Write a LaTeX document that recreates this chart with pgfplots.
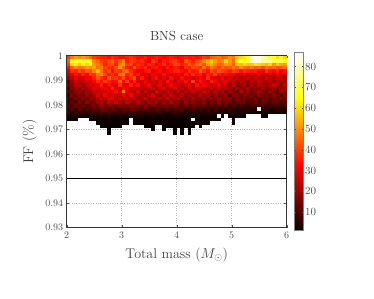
\documentclass[border=0pt]{standalone}
\usepackage{pgfplots}
\pgfplotsset{compat=1.18}
\pgfdeclareplotmark{cell}{\pgfpathrectangle{\pgfpoint{-1.9pt}{-1.77pt}}{\pgfpoint{3.8pt}{3.54pt}}\pgfusepathqfill}
\begin{document}
\begin{tikzpicture}[x=1pt,y=1pt]
\path[use as bounding box] (0,0) rectangle (374,299);
\begin{axis}[
  at={(66.7pt,71.3pt)},anchor=south west,
  scale only axis,width=220pt,height=172pt,
  xmin=2,xmax=6,ymin=0.93,ymax=1,
  xtick={2,3,4,5,6},
  ytick={0.93,0.94,0.95,0.96,0.97,0.98,0.99,1},
  yticklabels={0.93,0.94,0.95,0.96,0.97,0.98,0.99,1},
  grid=major,
  grid style={dotted,black!28,line width=0.5pt},
  tick align=inside,major tick length=2.5pt,
  tick style={black!70,line width=0.4pt},
  axis line style={black!80,line width=0.8pt},
  tick label style={font=\fontsize{10}{11}\selectfont,text=black!70},
  xticklabel style={yshift=-1pt},
  title={BNS case},
  title style={font=\fontsize{13.2}{15}\selectfont,text=black!80,yshift=5pt},
  xlabel={Total mass ($M_\odot$)},
  ylabel={FF (\%)},
  label style={font=\fontsize{14}{16}\selectfont,text=black!75},
  xlabel style={yshift=-2pt},
  ylabel style={yshift=2pt},
  colormap={myhot}{rgb255(0cm)=(10,0,0); rgb255(3.65cm)=(255,0,0); rgb255(7.46cm)=(255,255,0); rgb255(10cm)=(255,255,255)},
  point meta min=1,point meta max=86.6,
  colorbar,
  colorbar style={
    at={(parent axis.south east)},anchor=south west,xshift=-0.7pt,yshift=-3pt,
    scale only axis,width=9pt,height=177.7pt,
    ytick={10,20,30,40,50,60,70,80},
    tick label style={font=\fontsize{10.5}{11}\selectfont,text=black!70,xshift=-2pt},
    axis line style={black!50,line width=1pt},
    major tick length=1.5pt,
  },
]
\addplot[scatter,only marks,mark=cell,point meta=explicit,
  scatter/use mapped color={draw=none,fill=mapped color},
  unbounded coords=discard,
  y filter/.expression={\thisrow{c}<0.5 ? nan : y}]
 table[row sep=\\,meta=c,
   x expr={2+(\coordindex-60*floor(\coordindex/60+0.001)+0.5)*4/60},
   y expr={1-(floor(\coordindex/60+0.001)+0.5)*0.0014}]{
c\\
40\\48\\52\\50\\52\\50\\46\\40\\38\\36\\36\\34\\38\\36\\34\\34\\36\\38\\36\\34\\34\\36\\32\\34\\36\\34\\32\\34\\36\\34\\32\\34\\36\\34\\36\\34\\36\\40\\38\\44\\46\\48\\44\\46\\50\\48\\56\\60\\62\\66\\80\\84\\82\\78\\74\\70\\68\\62\\66\\60\\
44\\66\\68\\66\\70\\68\\64\\50\\46\\40\\38\\42\\46\\38\\44\\50\\36\\40\\38\\36\\38\\34\\30\\40\\36\\30\\36\\34\\38\\40\\36\\34\\44\\40\\36\\42\\44\\50\\56\\60\\52\\48\\50\\60\\52\\46\\62\\70\\66\\70\\82\\86\\84\\76\\80\\78\\70\\72\\74\\66\\
40\\60\\62\\58\\64\\60\\66\\52\\48\\44\\36\\40\\44\\36\\48\\52\\40\\42\\34\\38\\36\\32\\38\\36\\30\\34\\38\\32\\36\\42\\40\\36\\38\\44\\40\\46\\50\\42\\52\\54\\48\\44\\46\\52\\50\\44\\58\\56\\60\\58\\58\\62\\60\\58\\56\\60\\52\\58\\54\\52\\
34\\44\\50\\46\\48\\52\\50\\54\\46\\48\\40\\38\\36\\42\\52\\44\\36\\34\\44\\36\\34\\38\\30\\34\\36\\32\\30\\36\\32\\36\\34\\30\\38\\36\\42\\40\\38\\46\\40\\48\\44\\40\\46\\42\\44\\48\\44\\50\\46\\44\\48\\44\\46\\42\\48\\44\\46\\42\\44\\46\\
28\\38\\36\\42\\38\\44\\42\\48\\56\\46\\38\\42\\34\\40\\38\\44\\46\\38\\34\\30\\30\\34\\36\\28\\32\\34\\28\\32\\34\\36\\38\\34\\32\\38\\34\\36\\44\\38\\34\\42\\38\\44\\40\\38\\36\\40\\38\\34\\38\\36\\34\\36\\32\\30\\38\\34\\32\\36\\30\\34\\
24\\28\\34\\30\\36\\32\\40\\38\\46\\50\\42\\36\\40\\34\\46\\48\\36\\40\\32\\36\\28\\30\\26\\32\\30\\28\\34\\30\\26\\30\\32\\28\\36\\32\\38\\34\\36\\30\\36\\34\\40\\34\\30\\34\\32\\30\\26\\28\\30\\26\\28\\26\\30\\24\\26\\28\\24\\30\\26\\28\\
18\\24\\30\\26\\28\\32\\30\\36\\44\\38\\34\\44\\38\\40\\36\\42\\34\\38\\44\\30\\36\\28\\24\\30\\34\\26\\30\\24\\34\\28\\26\\34\\28\\30\\26\\30\\32\\28\\38\\30\\28\\26\\32\\24\\28\\22\\26\\22\\24\\26\\22\\26\\24\\22\\28\\24\\22\\26\\24\\22\\
12\\20\\26\\22\\26\\28\\26\\32\\38\\34\\40\\36\\32\\34\\44\\32\\40\\30\\36\\28\\26\\32\\24\\28\\22\\30\\26\\34\\28\\24\\30\\28\\34\\26\\40\\28\\34\\30\\26\\36\\32\\24\\28\\30\\22\\26\\20\\24\\22\\18\\24\\20\\26\\22\\20\\24\\20\\24\\22\\20\\
14\\18\\22\\24\\20\\24\\28\\26\\30\\36\\28\\34\\30\\26\\38\\30\\28\\36\\30\\34\\24\\28\\32\\22\\26\\30\\24\\28\\32\\26\\28\\22\\26\\30\\24\\34\\26\\32\\28\\24\\26\\30\\22\\26\\18\\24\\14\\20\\24\\16\\22\\18\\24\\20\\18\\22\\26\\20\\18\\24\\
10\\16\\20\\16\\22\\20\\24\\30\\26\\30\\32\\26\\36\\30\\26\\34\\32\\24\\28\\22\\26\\22\\24\\28\\20\\26\\30\\22\\24\\30\\22\\26\\20\\28\\24\\28\\30\\24\\20\\26\\22\\26\\18\\24\\22\\14\\22\\18\\14\\22\\16\\20\\14\\22\\18\\14\\20\\16\\22\\18\\
12\\14\\18\\20\\16\\22\\18\\26\\24\\28\\26\\30\\24\\34\\28\\48\\30\\26\\22\\30\\20\\26\\22\\18\\28\\24\\20\\26\\22\\18\\26\\20\\24\\20\\26\\22\\18\\26\\24\\18\\24\\18\\22\\14\\20\\18\\12\\22\\16\\20\\14\\18\\22\\16\\12\\20\\16\\14\\20\\16\\
8\\16\\12\\18\\14\\20\\16\\22\\28\\22\\32\\24\\28\\26\\22\\30\\24\\32\\20\\24\\22\\18\\24\\28\\22\\16\\24\\20\\26\\22\\18\\24\\16\\22\\18\\20\\24\\16\\22\\14\\20\\14\\18\\20\\10\\16\\18\\12\\18\\14\\16\\10\\18\\14\\16\\12\\18\\14\\10\\16\\
10\\10\\16\\12\\18\\14\\20\\18\\22\\26\\22\\28\\30\\22\\26\\24\\28\\20\\26\\20\\22\\26\\18\\22\\16\\24\\20\\26\\16\\22\\24\\16\\20\\14\\22\\16\\18\\22\\14\\20\\16\\20\\14\\16\\18\\10\\16\\12\\16\\12\\14\\16\\10\\14\\16\\12\\14\\10\\16\\14\\
8\\12\\10\\16\\10\\18\\14\\16\\20\\22\\18\\24\\20\\26\\22\\18\\24\\20\\18\\24\\20\\16\\22\\18\\22\\16\\20\\16\\22\\16\\18\\14\\20\\16\\18\\14\\16\\18\\12\\16\\14\\18\\12\\16\\14\\10\\14\\12\\14\\10\\12\\14\\10\\14\\12\\10\\12\\14\\10\\12\\
10\\8\\14\\10\\14\\10\\12\\16\\14\\18\\14\\18\\16\\14\\18\\16\\14\\18\\14\\16\\14\\18\\12\\16\\14\\12\\16\\14\\12\\16\\14\\12\\14\\10\\14\\12\\10\\14\\10\\12\\10\\12\\8\\12\\8\\10\\8\\10\\9\\8\\9\\7\\10\\8\\9\\7\\9\\8\\7\\9\\
8\\10\\7\\12\\8\\11\\7\\12\\10\\14\\12\\10\\14\\11\\8\\12\\10\\14\\10\\12\\8\\12\\10\\8\\12\\10\\7\\11\\8\\10\\7\\10\\8\\6\\10\\7\\8\\6\\7\\6\\7\\5\\8\\4\\7\\5\\4\\5\\4\\5\\4\\5\\0\\4\\5\\4\\4\\5\\4\\4\\
8\\5\\7\\5\\7\\4\\8\\6\\7\\9\\7\\9\\6\\7\\6\\9\\7\\6\\9\\6\\7\\5\\7\\4\\6\\7\\5\\4\\5\\7\\5\\4\\5\\4\\5\\4\\4\\5\\4\\4\\3\\5\\4\\3\\4\\3\\3\\3\\2\\3\\2\\3\\2\\3\\2\\3\\2\\3\\2\\2\\
4\\3\\4\\3\\3\\2\\4\\3\\3\\5\\3\\5\\3\\3\\4\\3\\2\\3\\3\\4\\3\\2\\3\\3\\2\\3\\3\\2\\3\\3\\2\\3\\2\\3\\2\\3\\2\\2\\3\\2\\2\\0\\2\\0\\2\\2\\2\\2\\2\\0\\0\\0\\0\\1\\1\\0\\0\\0\\0\\0\\
2\\1\\1\\0\\0\\0\\2\\1\\1\\2\\1\\2\\1\\1\\2\\1\\1\\0\\1\\1\\2\\1\\1\\2\\1\\1\\2\\1\\1\\1\\2\\1\\1\\2\\0\\1\\1\\1\\1\\1\\1\\1\\0\\0\\0\\1\\0\\0\\0\\0\\0\\0\\0\\0\\0\\0\\0\\0\\0\\0\\
0\\0\\0\\0\\0\\0\\0\\0\\1\\1\\1\\1\\1\\1\\1\\1\\1\\0\\1\\1\\1\\1\\1\\1\\1\\1\\1\\1\\1\\1\\1\\1\\1\\1\\1\\1\\1\\1\\1\\0\\0\\0\\0\\0\\0\\1\\0\\0\\0\\0\\0\\0\\0\\0\\0\\0\\0\\0\\0\\0\\
0\\0\\0\\0\\0\\0\\0\\0\\0\\1\\1\\1\\1\\1\\1\\0\\0\\0\\0\\0\\0\\1\\1\\1\\0\\0\\1\\1\\1\\1\\1\\1\\1\\1\\1\\0\\1\\0\\0\\0\\0\\0\\0\\0\\0\\0\\0\\0\\0\\0\\0\\0\\0\\0\\0\\0\\0\\0\\0\\0\\
0\\0\\0\\0\\0\\0\\0\\0\\0\\0\\0\\1\\0\\0\\0\\0\\0\\0\\0\\0\\0\\0\\0\\1\\0\\0\\1\\0\\0\\1\\0\\1\\0\\1\\0\\0\\0\\0\\0\\0\\0\\0\\0\\0\\0\\0\\0\\0\\0\\0\\0\\0\\0\\0\\0\\0\\0\\0\\0\\0\\
0\\0\\0\\0\\0\\0\\0\\0\\0\\0\\0\\1\\0\\0\\0\\0\\0\\0\\0\\0\\0\\0\\0\\0\\0\\0\\0\\0\\0\\1\\0\\1\\0\\1\\0\\0\\0\\0\\0\\0\\0\\0\\0\\0\\0\\0\\0\\0\\0\\0\\0\\0\\0\\0\\0\\0\\0\\0\\0\\0\\
};
\addplot[black,line width=1.4pt] coordinates {(2,0.95)(6,0.95)};
\end{axis}
\end{tikzpicture}
\end{document}
